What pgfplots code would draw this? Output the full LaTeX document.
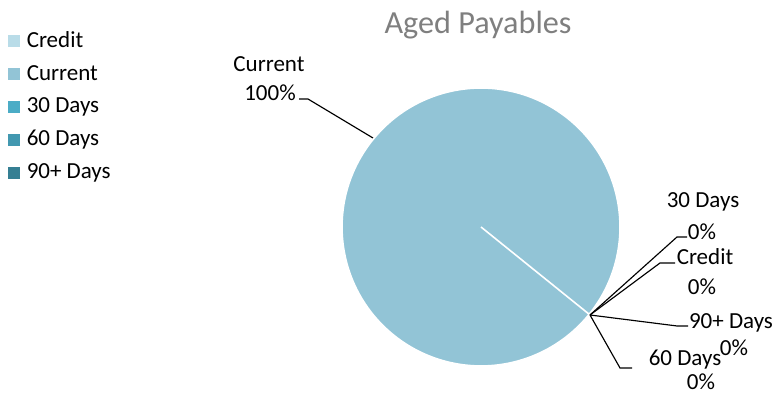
\documentclass[border=0pt]{standalone}
\usepackage{fontspec}
\setmainfont{Carlito}
\usepackage{pgfplots}
\usepackage{pgfplotstable}
\pgfplotsset{compat=1.18}
\definecolor{cCredit}{HTML}{B9DCE8}
\definecolor{cCurrent}{HTML}{92C4D6}
\definecolor{c30}{HTML}{4BACC6}
\definecolor{c60}{HTML}{4298B0}
\definecolor{c90}{HTML}{357F93}
\definecolor{titlegray}{HTML}{7F7F7F}
\pgfplotstableread[col sep=comma]{
label,value
Credit,0
Current,100
30 Days,0
60 Days,0
90+ Days,0
}\payables
\begin{document}
\begin{tikzpicture}
% pie geometry (axis units = pixels of the reference)
\def\cx{481}\def\cy{167}\def\R{139}\def\Rpt{60.43pt}\def\startang{-38.9}
\pgfplotstablegetelem{1}{value}\of\payables
\pgfmathsetmacro{\spanCurrent}{3.6*\pgfplotsretval}
\pgfmathsetmacro{\sx}{\cx+\R*cos(\startang)}
\pgfmathsetmacro{\sy}{\cy+\R*sin(\startang)}
\begin{axis}[
  width=338.26pt, height=171.3pt, scale only axis,
  xmin=0, xmax=778, ymin=0, ymax=394,
  hide axis, clip=false,
  legend style={at={(axis cs:1,368)}, anchor=north west, draw=none, fill=none,
    font=\fontsize{10}{12}\selectfont, row sep=5.3pt,
    nodes={inner xsep=2.8pt, inner ysep=0pt, text height=7pt, text depth=2pt}},
  legend cell align=left,
  legend image code/.code={\fill[#1] (0pt,-2.4pt) rectangle (4.8pt,2.4pt);},
]
\addlegendimage{cCredit}\addlegendentry{Credit}
\addlegendimage{cCurrent}\addlegendentry{Current}
\addlegendimage{c30}\addlegendentry{30 Days}
\addlegendimage{c60}\addlegendentry{60 Days}
\addlegendimage{c90}\addlegendentry{90+ Days}
% Current slice (100%)
\fill[cCurrent, draw=white, line width=0.7pt] (axis cs:\cx,\cy) -- (axis cs:\sx,\sy)
  arc[start angle=\startang, delta angle=\spanCurrent, radius=\Rpt] -- cycle;
% title
\node[text=titlegray, font=\fontsize{14}{16}\selectfont] at (axis cs:478,369) {Aged Payables};
% data labels
\begin{scope}[every node/.style={font=\fontsize{10}{12}\selectfont, inner sep=0pt}]
\node at (axis cs:269,330) {Current};
\node at (axis cs:270,301) {100\%};
\node at (axis cs:703,192) {30 Days};
\node at (axis cs:702,162) {0\%};
\node at (axis cs:705,137) {Credit};
\node at (axis cs:702,107) {0\%};
\node at (axis cs:731,71) {90+ Days};
\node at (axis cs:734,46) {0\%};
\node at (axis cs:685,34) {60 Days};
\node at (axis cs:701,12) {0\%};
\end{scope}
% leader lines
\begin{scope}[line width=0.5pt, black]
\draw (axis cs:299,295) -- (axis cs:308,295) -- (axis cs:373,256);
\draw (axis cs:590,79) -- (axis cs:677,157) -- (axis cs:687,157);
\draw (axis cs:590,79) -- (axis cs:660,131) -- (axis cs:675,131);
\draw (axis cs:590,79) -- (axis cs:677,68) -- (axis cs:688,68);
\draw (axis cs:590,79) -- (axis cs:620,26) -- (axis cs:632,26);
\end{scope}
\end{axis}
\pgfresetboundingbox
\path[use as bounding box] (current axis.south west) rectangle (current axis.north east);
\end{tikzpicture}
\end{document}
